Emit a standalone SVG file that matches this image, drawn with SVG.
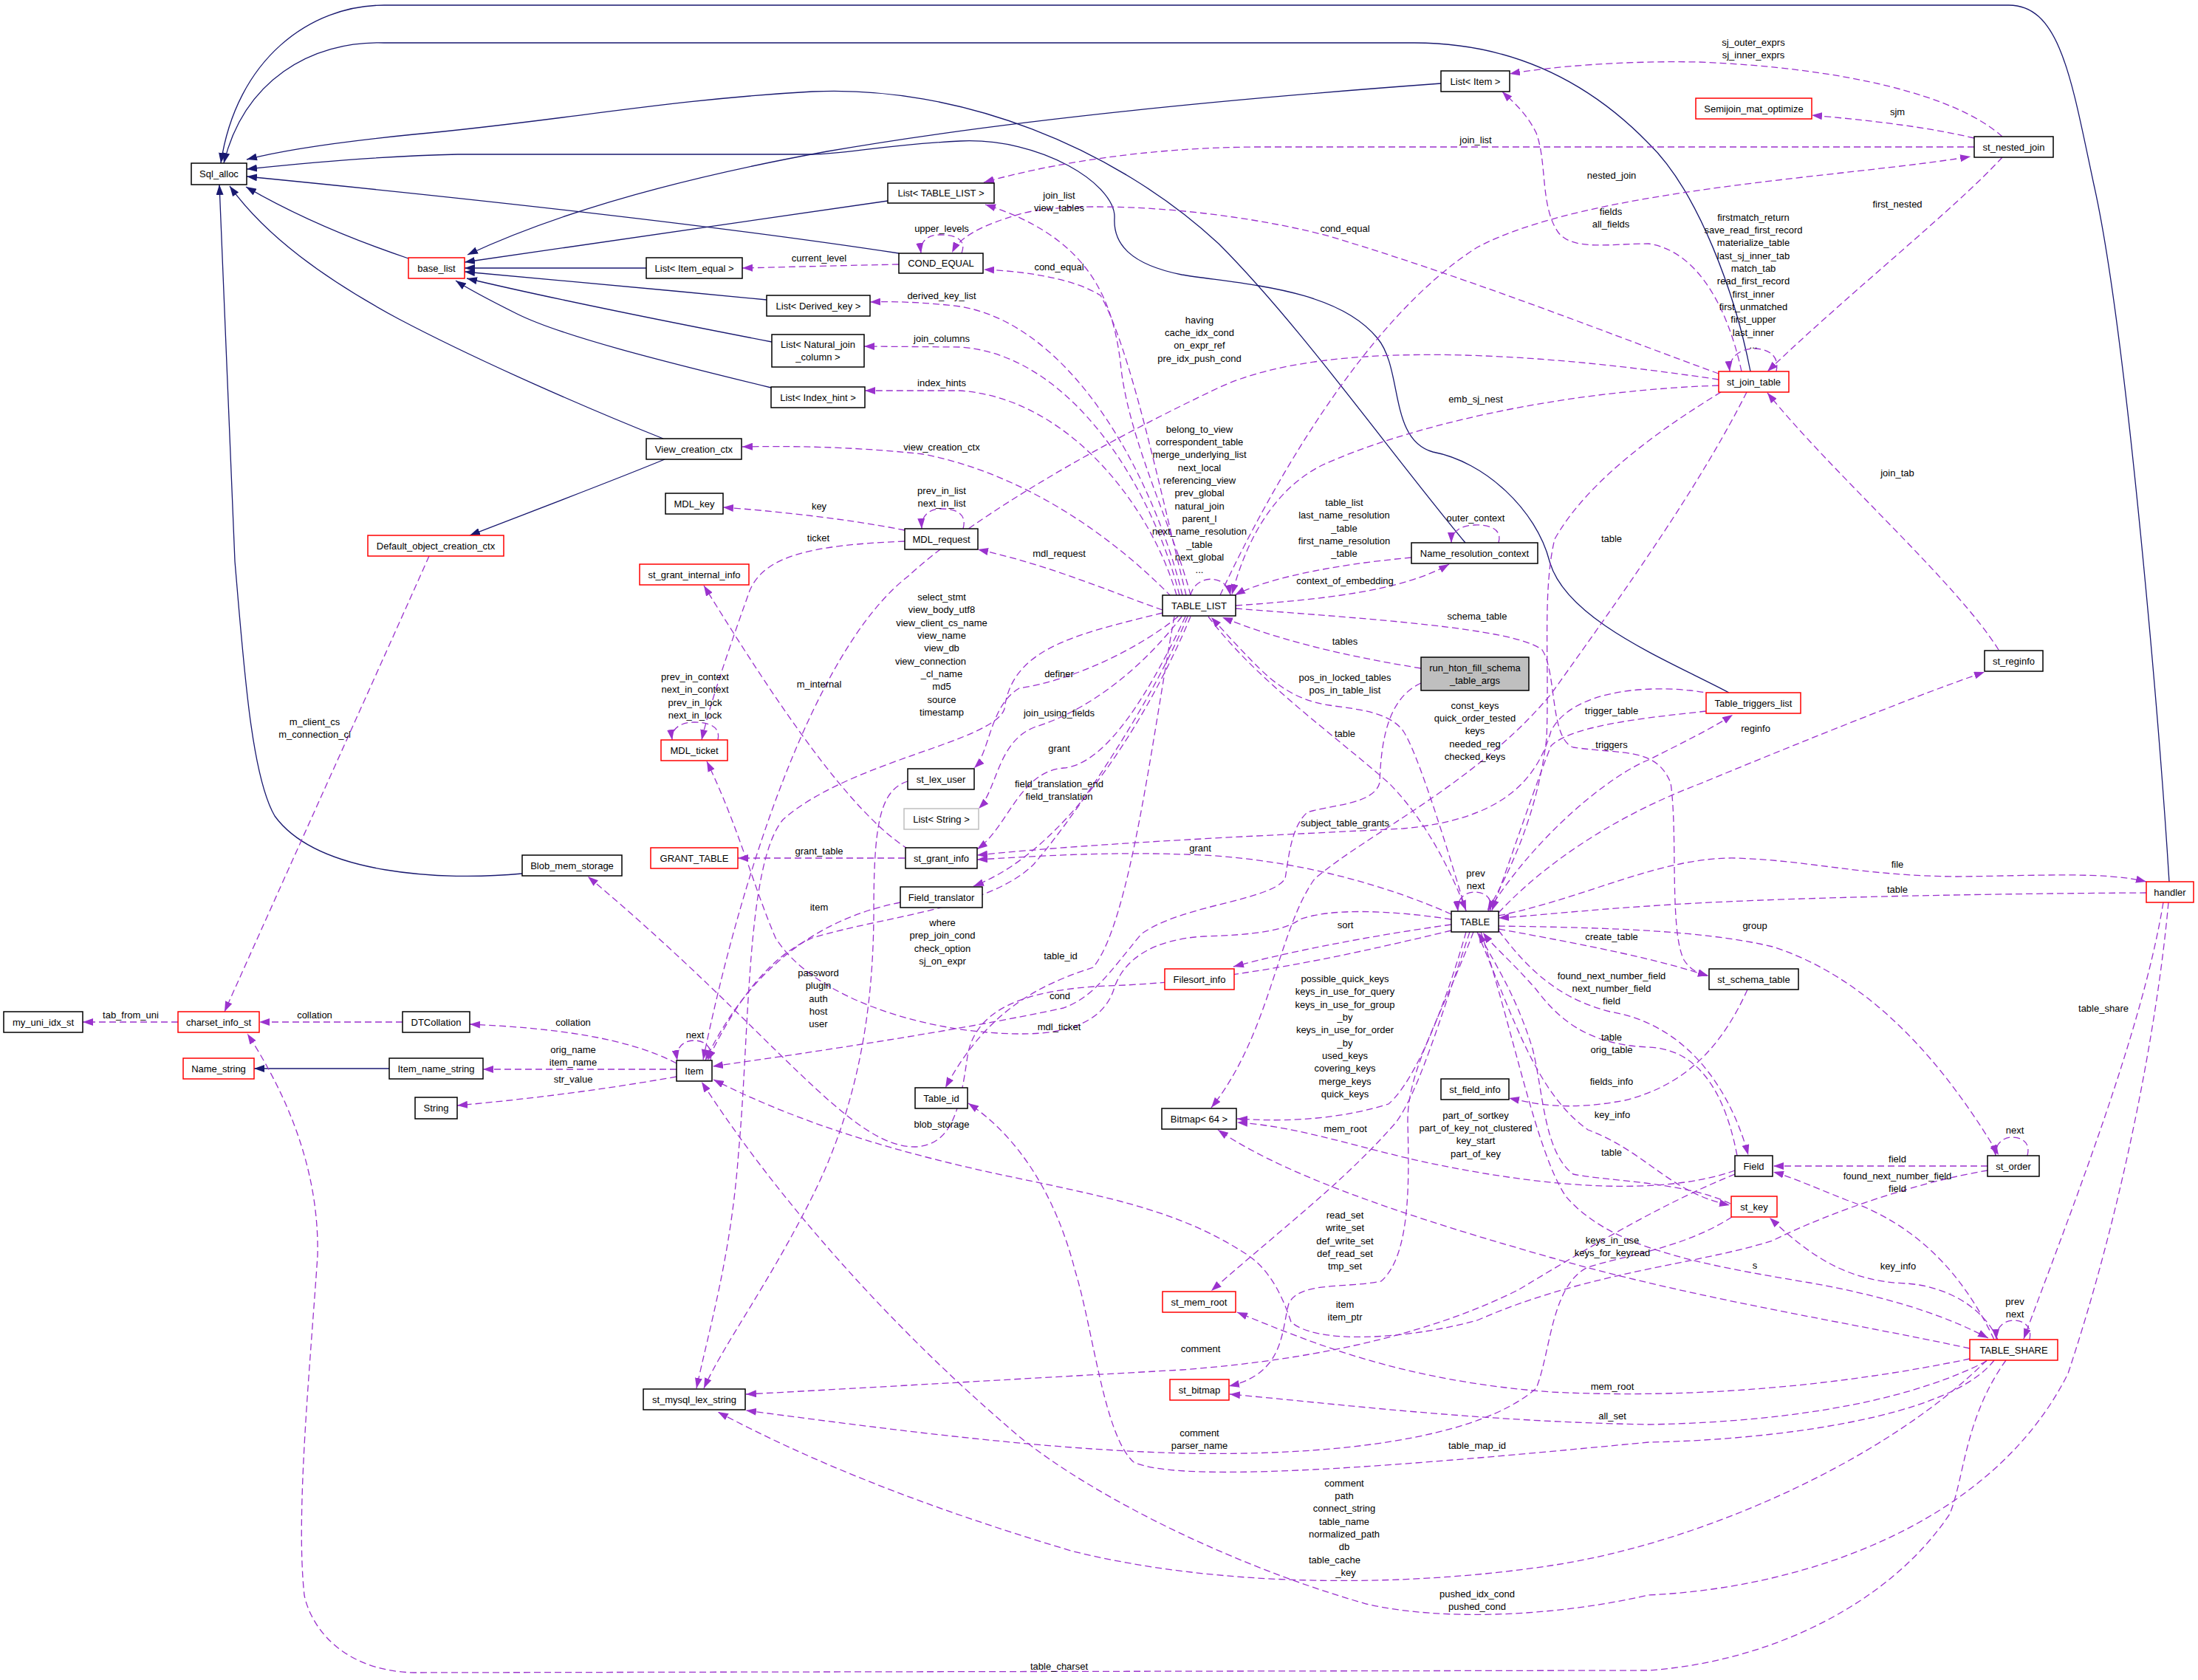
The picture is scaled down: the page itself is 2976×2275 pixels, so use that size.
<svg xmlns="http://www.w3.org/2000/svg" width="2976" height="2275" viewBox="0 0 2976 2275">
<style>
text{font-family:"Liberation Sans",Arial,Helvetica,sans-serif;font-size:13px;fill:#000;text-anchor:middle}
.n rect{fill:#fff;stroke:#000;stroke-width:1.5}
.r rect{stroke:#ff0000}
.g rect{stroke:#bfbfbf}
.h rect{fill:#bfbfbf}
.e{fill:none;stroke:#9a32cd;stroke-width:1.3;stroke-dasharray:9,5;marker-end:url(#pa)}
.i{fill:none;stroke:#191970;stroke-width:1.3;marker-end:url(#na)}
</style>
<defs>
<marker id="pa" viewBox="0 0 14 10" refX="14" refY="5" markerWidth="14" markerHeight="10" markerUnits="userSpaceOnUse" orient="auto"><path d="M0,0 L14,5 L0,10 z" fill="#9a32cd"/></marker>
<marker id="na" viewBox="0 0 14 10" refX="14" refY="5" markerWidth="14" markerHeight="10" markerUnits="userSpaceOnUse" orient="auto"><path d="M0,0 L14,5 L0,10 z" fill="#191970"/></marker>
</defs>
<rect width="2976" height="2275" fill="#fff"/>
<g id="edges">
<path class="i" d="M 2937,1194 C 2925,1000 2880,450 2835,250 C 2805,110 2790,7 2720,7 L 520,7 C 420,7 320,80 299,221"/>
<path class="i" d="M 2370,503 C 2350,400 2300,260 2232,194 C 2160,120 2060,58 1915,58 L 520,58 C 420,55 330,110 303,221"/>
<path class="i" d="M 1984,735 C 1880,610 1760,440 1650,330 C 1510,200 1300,115 1100,124 C 900,135 750,165 560,182 C 460,192 380,204 334,216"/>
<path class="i" d="M 2341,938 C 2260,895 2120,840 2098,760 C 2080,690 2010,625 1940,612 C 1880,595 1900,500 1865,458 C 1810,390 1680,385 1600,372 C 1530,358 1507,330 1509,295 C 1511,250 1410,186 1300,191 C 1200,196 1140,209 1100,209 L 620,209 C 520,211 420,220 334,229"/>
<path class="i" d="M 1217,343 C 1000,310 700,275 334,239"/>
<path class="i" d="M 553,350 C 470,322 400,292 333,253"/>
<path class="i" d="M 898,594 C 800,555 650,490 540,432 C 440,378 360,320 311,252"/>
<path class="i" d="M 707,1183 C 600,1193 430,1185 372,1105 C 340,1050 330,900 318,760 L 297,250"/>
<path class="i" d="M 900,622 C 820,655 700,700 636,725"/>
<path class="i" d="M 1951,113 C 1650,135 1350,165 1120,205 C 900,245 740,295 633,345"/>
<path class="i" d="M 1202,272 C 1000,300 800,330 629,355"/>
<path class="i" d="M 875,363 L 629,363"/>
<path class="i" d="M 1038,406 C 900,393 750,378 629,368"/>
<path class="i" d="M 1045,463 C 900,435 750,405 632,377"/>
<path class="i" d="M 1044,525 C 900,490 760,455 700,425 C 660,405 635,392 617,380"/>
<path class="i" d="M 527,1447 L 344,1447"/>

<path class="e" d="M 2711,185 C 2650,130 2500,92 2300,84 C 2200,82 2100,90 2044,100"/>
<path class="e" d="M 2673,187 C 2600,170 2520,162 2453,156"/>
<path class="e" d="M 2673,199 L 1700,199 C 1550,200 1420,222 1332,247"/>
<path class="e" d="M 1652,806 C 1720,660 1850,430 2000,335 C 2150,255 2500,240 2668,212"/>
<path class="e" d="M 1612,806 C 1590,720 1530,600 1518,500 C 1508,400 1470,320 1334,277"/>
<path class="e" d="M 1606,806 C 1570,660 1530,470 1490,400 C 1450,375 1380,367 1332,365"/>
<path class="e" d="M 1601,806 C 1560,640 1450,440 1300,415 C 1250,409 1210,408 1178,409"/>
<path class="e" d="M 1597,806 C 1560,660 1450,480 1300,470 L 1170,469"/>
<path class="e" d="M 1593,806 C 1560,690 1450,540 1300,529 L 1171,529"/>
<path class="e" d="M 1586,808 C 1500,720 1380,640 1250,615 C 1150,604 1060,604 1005,605"/>
<path class="e" d="M 1225,718 C 1150,703 1050,692 979,687"/>
<path class="e" d="M 1304,716 C 1310,694 1292,689 1275,689 C 1258,689 1247,698 1248,716"/>
<path class="e" d="M 1225,733 C 1100,738 1035,752 1015,800 C 990,870 962,950 950,1002"/>
<path class="e" d="M 1574,826 C 1500,800 1420,765 1324,744"/>
<path class="e" d="M 1612,806 C 1618,778 1660,776 1666,806"/>
<path class="e" d="M 1673,820 C 1790,812 1900,800 1962,764"/>
<path class="e" d="M 1911,755 C 1800,765 1710,785 1672,806"/>
<path class="e" d="M 2029,735 C 2035,714 2012,710 1995,711 C 1977,712 1965,720 1965,735"/>
<path class="e" d="M 2327,522 C 2100,530 1900,580 1790,630 C 1720,665 1685,740 1668,805"/>
<path class="e" d="M 2327,514 C 2100,480 1800,455 1650,525 C 1450,620 1300,715 1230,780 C 1100,880 1000,1200 952,1435"/>
<path class="e" d="M 962,1436 C 966,1416 952,1409 940,1409 C 926,1409 914,1418 917,1436"/>
<path class="e" d="M 1608,835 C 1560,950 1460,1100 1400,1170 C 1340,1230 1200,1240 1100,1270 C 1030,1300 985,1380 958,1436"/>
<path class="e" d="M 1219,1222 C 1100,1245 1010,1320 955,1436"/>
<path class="e" d="M 1612,835 C 1560,960 1450,1150 1318,1200"/>
<path class="e" d="M 1605,835 C 1560,930 1500,1035 1440,1040 C 1380,1045 1365,1120 1323,1150"/>
<path class="e" d="M 1600,835 C 1550,900 1480,960 1400,985 C 1350,1005 1350,1070 1325,1095"/>
<path class="e" d="M 1595,835 C 1540,880 1450,922 1380,932 C 1340,955 1340,1020 1319,1040"/>
<path class="e" d="M 1574,830 C 1450,860 1370,880 1360,960 C 1345,1005 1150,1030 1060,1110 C 1010,1170 1015,1400 1000,1560 C 990,1700 960,1800 943,1880"/>
<path class="e" d="M 1229,1058 C 1190,1070 1183,1120 1183,1240 C 1182,1400 1150,1520 1100,1620 C 1040,1740 980,1820 953,1880"/>
<path class="e" d="M 1225,1162 L 999,1162"/>
<path class="e" d="M 1230,1150 C 1150,1100 1050,950 953,793"/>
<path class="e" d="M 1965,1245 C 1880,1232 1800,1230 1760,1245 C 1740,1260 1700,1266 1630,1268 C 1560,1272 1520,1300 1508,1340 C 1490,1395 1420,1400 1384,1400 C 1250,1400 1100,1350 1050,1270 C 1020,1200 1000,1120 957,1031"/>
<path class="e" d="M 1590,835 C 1560,1000 1530,1250 1480,1310 C 1420,1330 1340,1360 1280,1473"/>
<path class="e" d="M 1924,925 C 1880,945 1870,1000 1868,1060 C 1860,1090 1800,1090 1770,1100 C 1748,1120 1745,1160 1740,1190 C 1720,1220 1600,1225 1545,1265 C 1500,1320 1480,1350 1440,1365 C 1300,1395 1100,1425 965,1444"/>
<path class="e" d="M 1924,905 C 1800,885 1720,862 1655,836"/>
<path class="e" d="M 1985,1234 C 1960,1150 1920,1020 1900,990 C 1880,962 1830,960 1800,955 C 1750,948 1720,920 1700,900 C 1680,880 1660,858 1640,836"/>
<path class="e" d="M 1636,835 C 1700,920 1800,990 1880,1060 C 1930,1110 1965,1180 1985,1233"/>
<path class="e" d="M 1673,824 C 1850,838 2050,850 2088,880 C 2108,910 2098,1000 2130,1012 C 2200,1022 2242,1012 2262,1060 C 2272,1130 2260,1260 2280,1300 C 2290,1315 2300,1318 2313,1321"/>
<path class="e" d="M 2366,1340 C 2330,1420 2280,1470 2200,1490 C 2120,1505 2080,1495 2043,1487"/>
<path class="e" d="M 2330,531 C 2250,580 2150,650 2105,730 C 2088,800 2098,900 2094,1000 C 2082,1100 2045,1180 2014,1233"/>
<path class="e" d="M 2365,531 C 2300,660 2200,800 2100,940 C 2000,1060 1850,1130 1780,1190 C 1730,1260 1720,1400 1640,1500"/>
<path class="e" d="M 1985,1262 C 1960,1350 1920,1460 1880,1495 C 1800,1520 1720,1518 1675,1515"/>
<path class="e" d="M 2349,1585 C 2250,1620 2100,1608 1950,1578 C 1850,1558 1760,1525 1675,1520"/>
<path class="e" d="M 2667,1826 C 2500,1790 2300,1760 2100,1703 C 1950,1660 1750,1600 1649,1530"/>
<path class="e" d="M 1965,1252 C 1850,1268 1740,1290 1670,1309"/>
<path class="e" d="M 1990,1262 C 1950,1380 1920,1480 1890,1520 C 1820,1600 1740,1660 1640,1748"/>
<path class="e" d="M 1995,1262 C 1950,1380 1905,1450 1906,1520 C 1908,1600 1910,1700 1870,1735 C 1820,1745 1760,1735 1745,1765 C 1735,1800 1740,1860 1664,1877"/>
<path class="e" d="M 2005,1262 C 2050,1400 2080,1560 2120,1620 C 2180,1690 2300,1712 2450,1737 C 2580,1760 2650,1790 2692,1812"/>
<path class="e" d="M 2018,1234 C 2022,1214 2008,1208 1997,1208 C 1984,1208 1972,1216 1974,1234"/>
<path class="e" d="M 2029,1240 C 2150,1215 2250,1160 2350,1162 C 2450,1165 2520,1186 2650,1187 C 2760,1186 2850,1180 2906,1194"/>
<path class="e" d="M 2906,1209 C 2700,1210 2400,1215 2232,1227 C 2150,1232 2080,1240 2029,1243"/>
<path class="e" d="M 2029,1254 C 2150,1256 2300,1258 2400,1282 C 2550,1330 2650,1470 2706,1564"/>
<path class="e" d="M 2029,1258 C 2150,1280 2250,1300 2313,1322"/>
<path class="e" d="M 2015,1234 C 2080,1130 2180,1050 2232,1029 C 2280,1005 2320,985 2346,968"/>
<path class="e" d="M 2310,963 C 2250,970 2130,980 2100,1010 C 2080,1060 2050,1150 2020,1233"/>
<path class="e" d="M 2320,940 C 2250,925 2130,930 2100,990 C 2080,1060 2030,1110 1900,1122 C 1750,1130 1500,1140 1323,1158"/>
<path class="e" d="M 1965,1238 C 1880,1200 1760,1165 1630,1158 C 1500,1152 1400,1160 1323,1164"/>
<path class="e" d="M 2029,1236 C 2100,1160 2200,1100 2300,1062 C 2450,1000 2600,940 2687,910"/>
<path class="e" d="M 2706,880 C 2650,790 2480,640 2393,532"/>
<path class="e" d="M 2711,213 C 2650,280 2500,400 2393,503"/>
<path class="e" d="M 2405,503 C 2410,480 2392,472 2375,472 C 2356,472 2340,484 2342,503"/>
<path class="e" d="M 2327,506 C 2200,460 2000,380 1800,320 C 1650,280 1450,270 1380,290 C 1330,305 1300,320 1289,342"/>
<path class="e" d="M 2358,503 C 2340,420 2300,340 2232,330 C 2180,330 2130,340 2110,315 C 2085,280 2095,220 2080,180 C 2065,150 2045,135 2034,124"/>
<path class="e" d="M 1302,343 C 1310,322 1290,318 1272,318 C 1255,318 1245,328 1247,343"/>
<path class="e" d="M 1217,358 C 1120,360 1050,362 1005,363"/>
<path class="e" d="M 972,1002 C 976,984 960,978 940,978 C 920,978 908,988 910,1002"/>
<path class="e" d="M 581,753 C 520,890 380,1200 304,1370"/>
<path class="e" d="M 241,1384 L 112,1384"/>
<path class="e" d="M 545,1384 L 351,1384"/>
<path class="e" d="M 916,1440 C 850,1405 750,1392 636,1387"/>
<path class="e" d="M 916,1448 L 654,1448"/>
<path class="e" d="M 916,1458 C 820,1475 720,1488 619,1497"/>
<path class="e" d="M 2716,1842 C 2660,1920 2660,2000 2640,2050 C 2560,2170 2400,2250 2232,2262 L 560,2265 C 460,2262 420,2200 412,2160 C 400,2050 420,1850 430,1700 C 432,1600 400,1500 335,1400"/>
<path class="e" d="M 2936,1222 C 2920,1400 2870,1650 2800,1860 C 2700,2060 2450,2150 2232,2160 C 2100,2190 1950,2195 1850,2172 C 1650,2115 1450,2010 1361,1929 C 1200,1790 1050,1620 950,1465"/>
<path class="e" d="M 2929,1222 C 2900,1400 2800,1650 2740,1813"/>
<path class="e" d="M 1965,1260 C 1800,1300 1650,1330 1500,1335 C 1380,1340 1320,1370 1310,1430 C 1300,1500 1290,1550 1240,1553 C 1150,1555 1050,1400 796,1187"/>
<path class="e" d="M 2700,1842 C 2640,1920 2400,1950 2232,1953 C 1900,1985 1600,2010 1535,1980 C 1495,1945 1480,1800 1456,1722 C 1430,1620 1380,1540 1311,1494"/>
<path class="e" d="M 2690,1842 C 2550,1980 2300,2090 2100,2120 C 1900,2150 1650,2150 1450,2100 C 1250,2040 1100,1980 972,1912"/>
<path class="e" d="M 2667,1840 C 2500,1875 2300,1895 2100,1885 C 1900,1870 1780,1820 1675,1777"/>
<path class="e" d="M 2690,1843 C 2600,1890 2450,1925 2232,1929 C 2000,1925 1800,1900 1665,1888"/>
<path class="e" d="M 2345,1648 C 2280,1690 2200,1700 2150,1716 C 2100,1740 2100,1830 2080,1880 C 2000,1950 1800,1972 1600,1968 C 1400,1962 1200,1935 1010,1910"/>
<path class="e" d="M 2349,1590 C 2250,1630 2150,1690 2057,1746 C 1950,1800 1800,1840 1600,1855 C 1400,1866 1200,1878 1010,1888"/>
<path class="e" d="M 2352,1565 C 2330,1450 2280,1420 2232,1418 C 2150,1415 2110,1380 2080,1340 C 2045,1300 2022,1282 2008,1263"/>
<path class="e" d="M 2029,1260 C 2060,1300 2100,1350 2180,1370 C 2300,1390 2350,1500 2367,1564"/>
<path class="e" d="M 2343,1630 C 2280,1600 2180,1600 2130,1590 C 2090,1560 2090,1480 2075,1420 C 2050,1340 2020,1300 2002,1263"/>
<path class="e" d="M 2000,1262 C 2050,1380 2080,1480 2150,1530 C 2230,1560 2260,1615 2342,1632"/>
<path class="e" d="M 2691,1579 L 2401,1579"/>
<path class="e" d="M 2745,1565 C 2750,1545 2735,1540 2724,1540 C 2712,1540 2700,1550 2702,1565"/>
<path class="e" d="M 2700,1814 C 2660,1730 2600,1660 2500,1625 C 2450,1605 2420,1592 2401,1587"/>
<path class="e" d="M 2705,1814 C 2680,1760 2620,1740 2580,1738 C 2500,1735 2450,1700 2396,1649"/>
<path class="e" d="M 2748,1814 C 2752,1794 2738,1788 2726,1788 C 2713,1788 2702,1798 2703,1814"/>
<path class="e" d="M 2691,1585 C 2600,1600 2480,1640 2400,1680 C 2300,1712 2150,1722 2000,1788 C 1900,1815 1780,1820 1748,1790 C 1738,1760 1722,1722 1690,1700 C 1600,1640 1500,1622 1400,1600 C 1250,1570 1100,1530 966,1462"/>

<g id="labels">
<text x="2374" y="61.5">sj_outer_exprs<tspan x="2374" dy="17.35">sj_inner_exprs</tspan></text>
<text x="2569" y="155.5">sjm</text>
<text x="1998" y="193.5">join_list</text>
<text x="2182" y="242">nested_join</text>
<text x="1434" y="268.5">join_list<tspan x="1434" dy="17.35">view_tables</tspan></text>
<text x="2181" y="290.5">fields<tspan x="2181" dy="17.35">all_fields</tspan></text>
<text x="2569" y="280.5">first_nested</text>
<text x="2374" y="298.5">firstmatch_return<tspan x="2374" dy="17.35">save_read_first_record</tspan><tspan x="2374" dy="17.35">materialize_table</tspan><tspan x="2374" dy="17.35">last_sj_inner_tab</tspan><tspan x="2374" dy="17.35">match_tab</tspan><tspan x="2374" dy="17.35">read_first_record</tspan><tspan x="2374" dy="17.35">first_inner</tspan><tspan x="2374" dy="17.35">first_unmatched</tspan><tspan x="2374" dy="17.35">first_upper</tspan><tspan x="2374" dy="17.35">last_inner</tspan><tspan x="2374" dy="17.35">...</tspan></text>
<text x="1275" y="313.5">upper_levels</text>
<text x="1821" y="313.5">cond_equal</text>
<text x="1109" y="353.5">current_level</text>
<text x="1434" y="365.5">cond_equal</text>
<text x="1275" y="404.5">derived_key_list</text>
<text x="1624" y="437.5">having<tspan x="1624" dy="17.35">cache_idx_cond</tspan><tspan x="1624" dy="17.35">on_expr_ref</tspan><tspan x="1624" dy="17.35">pre_idx_push_cond</tspan></text>
<text x="1275" y="463">join_columns</text>
<text x="1275" y="522.5">index_hints</text>
<text x="1998" y="545">emb_sj_nest</text>
<text x="1624" y="585.5">belong_to_view<tspan x="1624" dy="17.35">correspondent_table</tspan><tspan x="1624" dy="17.35">merge_underlying_list</tspan><tspan x="1624" dy="17.35">next_local</tspan><tspan x="1624" dy="17.35">referencing_view</tspan><tspan x="1624" dy="17.35">prev_global</tspan><tspan x="1624" dy="17.35">natural_join</tspan><tspan x="1624" dy="17.35">parent_l</tspan><tspan x="1624" dy="17.35">next_name_resolution</tspan><tspan x="1624" dy="17.35">_table</tspan><tspan x="1624" dy="17.35">next_global</tspan><tspan x="1624" dy="17.35">...</tspan></text>
<text x="1275" y="609.5">view_creation_ctx</text>
<text x="2569" y="644.5">join_tab</text>
<text x="1275" y="669">prev_in_list<tspan x="1275" dy="17.35">next_in_list</tspan></text>
<text x="1109" y="689.5">key</text>
<text x="1820" y="685">table_list<tspan x="1820" dy="17.35">last_name_resolution</tspan><tspan x="1820" dy="17.35">_table</tspan><tspan x="1820" dy="17.35">first_name_resolution</tspan><tspan x="1820" dy="17.35">_table</tspan></text>
<text x="1998" y="706">outer_context</text>
<text x="1108" y="732.5">ticket</text>
<text x="2182" y="734">table</text>
<text x="1434" y="753.5">mdl_request</text>
<text x="1821" y="791">context_of_embedding</text>
<text x="1275" y="813">select_stmt<tspan x="1275" dy="17.35">view_body_utf8</tspan><tspan x="1275" dy="17.35">view_client_cs_name</tspan><tspan x="1275" dy="17.35">view_name</tspan><tspan x="1275" dy="17.35">view_db</tspan><tspan x="1260" dy="17.35">view_connection</tspan><tspan x="1275" dy="17.35">_cl_name</tspan><tspan x="1275" dy="17.35">md5</tspan><tspan x="1275" dy="17.35">source</tspan><tspan x="1275" dy="17.35">timestamp</tspan></text>
<text x="2000" y="838.5">schema_table</text>
<text x="1821" y="872.5">tables</text>
<text x="1434" y="917">definer</text>
<text x="941" y="921">prev_in_context<tspan x="941" dy="17.35">next_in_context</tspan><tspan x="941" dy="17.35">prev_in_lock</tspan><tspan x="941" dy="17.35">next_in_lock</tspan></text>
<text x="1821" y="922">pos_in_locked_tables<tspan x="1821" dy="17.35">pos_in_table_list</tspan></text>
<text x="1109" y="930.5">m_internal</text>
<text x="1997" y="959.5">const_keys<tspan x="1997" dy="17.35">quick_order_tested</tspan><tspan x="1997" dy="17.35">keys</tspan><tspan x="1997" dy="17.35">needed_reg</tspan><tspan x="1997" dy="17.35">checked_keys</tspan></text>
<text x="2182" y="967">trigger_table</text>
<text x="1434" y="970">join_using_fields</text>
<text x="426" y="982">m_client_cs<tspan x="426" dy="17.35">m_connection_cl</tspan></text>
<text x="2377" y="991">reginfo</text>
<text x="1821" y="997.5">table</text>
<text x="2182" y="1012.5">triggers</text>
<text x="1434" y="1018">grant</text>
<text x="1434" y="1066">field_translation_end<tspan x="1434" dy="17.35">field_translation</tspan></text>
<text x="1821" y="1118.5">subject_table_grants</text>
<text x="1625" y="1153">grant</text>
<text x="1109" y="1157">grant_table</text>
<text x="2569" y="1175">file</text>
<text x="1998" y="1187">prev<tspan x="1998" dy="17.35">next</tspan></text>
<text x="2569" y="1209">table</text>
<text x="1109" y="1232.5">item</text>
<text x="1276" y="1254">where<tspan x="1276" dy="17.35">prep_join_cond</tspan><tspan x="1276" dy="17.35">check_option</tspan><tspan x="1276" dy="17.35">sj_on_expr</tspan></text>
<text x="1821.5" y="1257">sort</text>
<text x="2376" y="1257.5">group</text>
<text x="2182" y="1273">create_table</text>
<text x="1436" y="1299">table_id</text>
<text x="1108" y="1322">password<tspan x="1108" dy="17.35">plugin</tspan><tspan x="1108" dy="17.35">auth</tspan><tspan x="1108" dy="17.35">host</tspan><tspan x="1108" dy="17.35">user</tspan></text>
<text x="2182" y="1325.5">found_next_number_field<tspan x="2182" dy="17.35">next_number_field</tspan><tspan x="2182" dy="17.35">field</tspan></text>
<text x="1821" y="1330">possible_quick_keys<tspan x="1821" dy="17.35">keys_in_use_for_query</tspan><tspan x="1821" dy="17.35">keys_in_use_for_group</tspan><tspan x="1821" dy="17.35">_by</tspan><tspan x="1821" dy="17.35">keys_in_use_for_order</tspan><tspan x="1821" dy="17.35">_by</tspan><tspan x="1821" dy="17.35">used_keys</tspan><tspan x="1821" dy="17.35">covering_keys</tspan><tspan x="1821" dy="17.35">merge_keys</tspan><tspan x="1821" dy="17.35">quick_keys</tspan></text>
<text x="1435" y="1353">cond</text>
<text x="2848" y="1370">table_share</text>
<text x="177" y="1379">tab_from_uni</text>
<text x="426" y="1379">collation</text>
<text x="776" y="1389">collation</text>
<text x="1434" y="1394.5">mdl_ticket</text>
<text x="941" y="1405.5">next</text>
<text x="2182" y="1408.5">table<tspan x="2182" dy="17.35">orig_table</tspan></text>
<text x="776" y="1426">orig_name<tspan x="776" dy="17.35">item_name</tspan></text>
<text x="776" y="1466">str_value</text>
<text x="2182" y="1468.5">fields_info</text>
<text x="2183" y="1513.5">key_info</text>
<text x="1998" y="1514.5">part_of_sortkey<tspan x="1998" dy="17.35">part_of_key_not_clustered</tspan><tspan x="1998" dy="17.35">key_start</tspan><tspan x="1998" dy="17.35">part_of_key</tspan></text>
<text x="1275" y="1527">blob_storage</text>
<text x="1821.5" y="1533">mem_root</text>
<text x="2728" y="1535">next</text>
<text x="2182" y="1565">table</text>
<text x="2569" y="1573.5">field</text>
<text x="2569" y="1596.5">found_next_number_field<tspan x="2569" dy="17.35">field</tspan></text>
<text x="1821" y="1650">read_set<tspan x="1821" dy="17.35">write_set</tspan><tspan x="1821" dy="17.35">def_write_set</tspan><tspan x="1821" dy="17.35">def_read_set</tspan><tspan x="1821" dy="17.35">tmp_set</tspan></text>
<text x="2183" y="1683.5">keys_in_use<tspan x="2183" dy="17.35">keys_for_keyread</tspan></text>
<text x="2376" y="1718">s</text>
<text x="2570" y="1719">key_info</text>
<text x="2728" y="1767">prev<tspan x="2728" dy="17.35">next</tspan></text>
<text x="1821" y="1771">item<tspan x="1821" dy="17.35">item_ptr</tspan></text>
<text x="1625.6" y="1830.5">comment</text>
<text x="2183" y="1882">mem_root</text>
<text x="2183" y="1921.5">all_set</text>
<text x="1624" y="1944.5">comment<tspan x="1624" dy="17.35">parser_name</tspan></text>
<text x="2000" y="1961.5">table_map_id</text>
<text x="1820" y="2012.5">comment<tspan x="1820" dy="17.35">path</tspan><tspan x="1820" dy="17.35">connect_string</tspan><tspan x="1820" dy="17.35">table_name</tspan><tspan x="1820" dy="17.35">normalized_path</tspan><tspan x="1820" dy="17.35">db</tspan><tspan x="1807" dy="17.35">table_cache</tspan><tspan x="1822" dy="17.35">_key</tspan></text>
<text x="2000" y="2163">pushed_idx_cond<tspan x="2000" dy="17.35">pushed_cond</tspan></text>
<text x="1434" y="2261">table_charset</text>
</g>
</g>

<g id="Sql_alloc" class="n"><rect x="259" y="221" width="75" height="29"/><text x="296.5" y="240">Sql_alloc</text></g>
<g id="base_list" class="n r"><rect x="553" y="349" width="76" height="28"/><text x="591" y="367.5">base_list</text></g>
<g id="Default_object_creation_ctx" class="n r"><rect x="498" y="725" width="184" height="28"/><text x="590" y="743.5">Default_object_creation_ctx</text></g>
<g id="List_TABLE_LIST" class="n"><rect x="1202" y="248" width="144" height="27"/><text x="1274" y="266">List&lt; TABLE_LIST &gt;</text></g>
<g id="COND_EQUAL" class="n"><rect x="1217" y="343" width="114" height="27"/><text x="1274" y="361">COND_EQUAL</text></g>
<g id="List_Item_equal" class="n"><rect x="875" y="349" width="130" height="28"/><text x="940" y="367.5">List&lt; Item_equal &gt;</text></g>
<g id="List_Derived_key" class="n"><rect x="1038" y="400" width="140" height="28"/><text x="1108" y="418.5">List&lt; Derived_key &gt;</text></g>
<g id="List_Natural_join_column" class="n"><rect x="1045" y="453" width="125" height="44"/><text x="1107.5" y="471">List&lt; Natural_join<tspan x="1107.5" dy="17.35">_column &gt;</tspan></text></g>
<g id="List_Index_hint" class="n"><rect x="1044" y="524" width="127" height="28"/><text x="1107.5" y="542.5">List&lt; Index_hint &gt;</text></g>
<g id="View_creation_ctx" class="n"><rect x="875" y="594" width="129" height="28"/><text x="939.5" y="612.5">View_creation_ctx</text></g>
<g id="MDL_key" class="n"><rect x="901" y="668" width="78" height="28"/><text x="940" y="686.5">MDL_key</text></g>
<g id="MDL_request" class="n"><rect x="1225" y="716" width="99" height="28"/><text x="1274.5" y="734.5">MDL_request</text></g>
<g id="List_Item" class="n"><rect x="1951" y="96" width="93" height="28"/><text x="1997.5" y="114.5">List&lt; Item &gt;</text></g>
<g id="Name_resolution_context" class="n"><rect x="1911" y="735" width="171" height="28"/><text x="1996.5" y="753.5">Name_resolution_context</text></g>
<g id="Semijoin_mat_optimize" class="n r"><rect x="2296" y="133" width="157" height="28"/><text x="2374.5" y="151.5">Semijoin_mat_optimize</text></g>
<g id="st_nested_join" class="n"><rect x="2673" y="185" width="107" height="28"/><text x="2726.5" y="203.5">st_nested_join</text></g>
<g id="st_join_table" class="n r"><rect x="2327" y="503" width="95" height="28"/><text x="2374.5" y="521.5">st_join_table</text></g>
<g id="Blob_mem_storage" class="n"><rect x="707" y="1158" width="135" height="28"/><text x="774.5" y="1176.5">Blob_mem_storage</text></g>
<g id="my_uni_idx_st" class="n"><rect x="5" y="1370" width="107" height="28"/><text x="58.5" y="1388.5">my_uni_idx_st</text></g>
<g id="charset_info_st" class="n r"><rect x="241" y="1370" width="110" height="28"/><text x="296" y="1388.5">charset_info_st</text></g>
<g id="DTCollation" class="n"><rect x="545" y="1370" width="91" height="28"/><text x="590.5" y="1388.5">DTCollation</text></g>
<g id="Name_string" class="n r"><rect x="248" y="1433" width="96" height="28"/><text x="296" y="1451.5">Name_string</text></g>
<g id="Item_name_string" class="n"><rect x="527" y="1433" width="127" height="28"/><text x="590.5" y="1451.5">Item_name_string</text></g>
<g id="String" class="n"><rect x="562" y="1486" width="57" height="29"/><text x="590.5" y="1505">String</text></g>
<g id="st_grant_internal_info" class="n r"><rect x="866" y="764" width="148" height="28"/><text x="940" y="782.5">st_grant_internal_info</text></g>
<g id="MDL_ticket" class="n r"><rect x="895" y="1002" width="90" height="28"/><text x="940" y="1020.5">MDL_ticket</text></g>
<g id="GRANT_TABLE" class="n r"><rect x="881" y="1148" width="118" height="28"/><text x="940" y="1166.5">GRANT_TABLE</text></g>
<g id="st_lex_user" class="n"><rect x="1229" y="1041" width="90" height="28"/><text x="1274" y="1059.5">st_lex_user</text></g>
<g id="List_String" class="n g"><rect x="1224" y="1095" width="101" height="28"/><text x="1274.5" y="1113.5">List&lt; String &gt;</text></g>
<g id="st_grant_info" class="n"><rect x="1226" y="1148" width="97" height="28"/><text x="1274.5" y="1166.5">st_grant_info</text></g>
<g id="Field_translator" class="n"><rect x="1219" y="1201" width="111" height="28"/><text x="1274.5" y="1219.5">Field_translator</text></g>
<g id="Item" class="n"><rect x="916" y="1436" width="48" height="28"/><text x="940" y="1454.5">Item</text></g>
<g id="Table_id" class="n"><rect x="1239" y="1473" width="71" height="28"/><text x="1274.5" y="1491.5">Table_id</text></g>
<g id="TABLE_LIST" class="n"><rect x="1574" y="806" width="99" height="28"/><text x="1623.5" y="824.5">TABLE_LIST</text></g>
<g id="run_hton_fill_schema_table_args" class="n h"><rect x="1924" y="890" width="146" height="45"/><text x="1997" y="908.5">run_hton_fill_schema<tspan x="1997" dy="17.35">_table_args</tspan></text></g>
<g id="TABLE" class="n"><rect x="1965" y="1234" width="64" height="28"/><text x="1997" y="1252.5">TABLE</text></g>
<g id="Filesort_info" class="n r"><rect x="1577" y="1312" width="94" height="28"/><text x="1624" y="1330.5">Filesort_info</text></g>
<g id="st_field_info" class="n"><rect x="1951" y="1461" width="92" height="28"/><text x="1997" y="1479.5">st_field_info</text></g>
<g id="Bitmap_64" class="n"><rect x="1573" y="1501" width="101" height="28"/><text x="1623.5" y="1519.5">Bitmap&lt; 64 &gt;</text></g>
<g id="Table_triggers_list" class="n r"><rect x="2310" y="938" width="128" height="28"/><text x="2374" y="956.5">Table_triggers_list</text></g>
<g id="st_reginfo" class="n"><rect x="2687" y="881" width="79" height="28"/><text x="2726.5" y="899.5">st_reginfo</text></g>
<g id="handler" class="n r"><rect x="2906" y="1194" width="64" height="28"/><text x="2938" y="1212.5">handler</text></g>
<g id="st_schema_table" class="n"><rect x="2314" y="1312" width="121" height="28"/><text x="2374.5" y="1330.5">st_schema_table</text></g>
<g id="st_mysql_lex_string" class="n"><rect x="871" y="1881" width="138" height="28"/><text x="940" y="1899.5">st_mysql_lex_string</text></g>
<g id="st_mem_root" class="n r"><rect x="1574" y="1749" width="99" height="28"/><text x="1623.5" y="1767.5">st_mem_root</text></g>
<g id="st_bitmap" class="n r"><rect x="1584" y="1868" width="80" height="28"/><text x="1624" y="1886.5">st_bitmap</text></g>
<g id="Field" class="n"><rect x="2349" y="1565" width="51" height="28"/><text x="2374.5" y="1583.5">Field</text></g>
<g id="st_key" class="n r"><rect x="2344" y="1620" width="62" height="28"/><text x="2375" y="1638.5">st_key</text></g>
<g id="st_order" class="n"><rect x="2691" y="1565" width="70" height="28"/><text x="2726" y="1583.5">st_order</text></g>
<g id="TABLE_SHARE" class="n r"><rect x="2667" y="1814" width="119" height="28"/><text x="2726.5" y="1832.5">TABLE_SHARE</text></g>
</svg>
